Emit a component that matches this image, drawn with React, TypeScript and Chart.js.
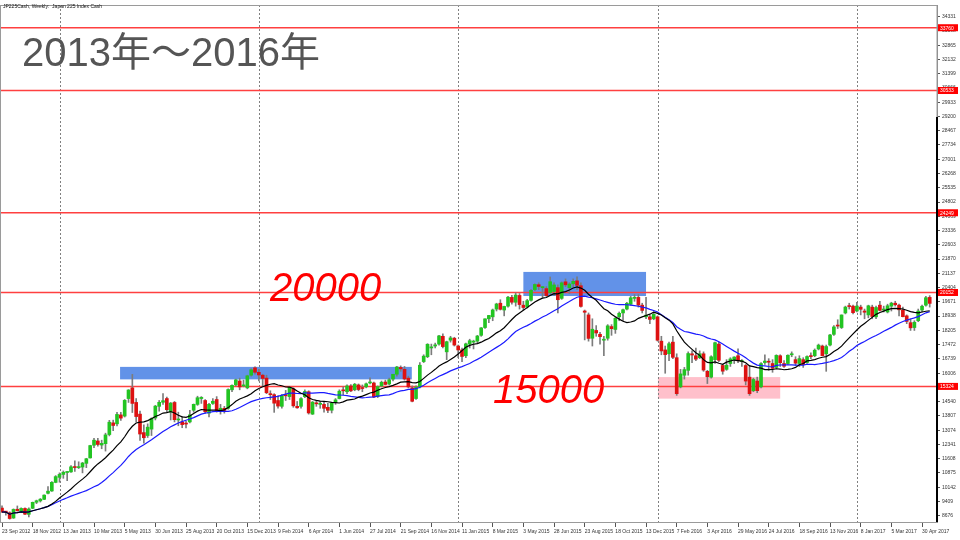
import React, { useEffect, useRef } from "react";
import { Chart, registerables } from "chart.js";
Chart.register(...registerables);

// Weekly candles [open, high, low, close], bar dated 23 Sep 2012 onward
const ohlc2012 = [
  [9070, 9180, 8850, 8870], [8870, 8900, 8700, 8863], [8830, 8880, 8500, 8534], [8560, 9030, 8540, 9002],
  [9010, 9180, 8920, 8933], [8900, 9080, 8850, 9051], [9050, 9080, 8730, 8757], [8750, 9080, 8620, 9024],
  [9060, 9380, 9040, 9366], [9370, 9480, 9300, 9446], [9440, 9560, 9380, 9527], [9520, 9750, 9500, 9737],
  [9830, 10170, 9800, 9940], [9950, 10430, 9930, 10395],
];
const ohlc2013 = [
  [10390, 10740, 10370, 10688], [10650, 10880, 10400, 10801], [10800, 10980, 10600, 10913], [10900, 10950, 10480, 10926],
  [10930, 11260, 10900, 11191], [11190, 11500, 10950, 11153], [11150, 11450, 11100, 11173], [11180, 11420, 10880, 11385],
  [11370, 11630, 11150, 11606], [11650, 12300, 11640, 12283], [12300, 12650, 12180, 12560], [12520, 12650, 12250, 12338],
  [12310, 12560, 12120, 12397], [12380, 12920, 12000, 12833], [12850, 13580, 12780, 13485], [13450, 13590, 13050, 13316],
  [13400, 13990, 13290, 13884], [13860, 13990, 13570, 13694], [13800, 14650, 13750, 14607], [14700, 15160, 14500, 15138],
  [15250, 15942, 13981, 14450], [14500, 14700, 13500, 13774], [13900, 14050, 12550, 12877], [12950, 13350, 12410, 12686],
  [12800, 13400, 12700, 13230], [13130, 13710, 12800, 13677], [13700, 14350, 13600, 14310], [14300, 14600, 14050, 14506],
  [14510, 14950, 14400, 14589], [14700, 14780, 14000, 14129], [14000, 14500, 13600, 14466], [14500, 14550, 13500, 13615],
  [13600, 14000, 13300, 13650], [13500, 13770, 13200, 13361], [13400, 13530, 13190, 13389], [13500, 14100, 13450, 13861],
  [14100, 14420, 14000, 14404], [14400, 14820, 14350, 14742], [14700, 14800, 14450, 14760], [14600, 14650, 13950, 14024],
  [13950, 14450, 13750, 14404], [14450, 14700, 14400, 14561], [14650, 14800, 14000, 14088], [14100, 14400, 13900, 14201],
  [14200, 14300, 13950, 14086], [14200, 15200, 14150, 15165], [15150, 15400, 15050, 15381], [15400, 15700, 15350, 15661],
  [15600, 15750, 15150, 15299], [15350, 15650, 15300, 15403], [15250, 15900, 15200, 15870], [15900, 16230, 15850, 16178],
  [16280, 16330, 15950, 16050],
];
const ohlc2014 = [
  [16050, 16200, 15600, 15912], [15900, 15950, 15350, 15734], [15750, 15900, 14950, 15000], [14950, 15100, 14650, 14900],
  [14900, 14950, 13990, 14462], [14600, 14850, 14200, 14313], [14300, 14900, 14200, 14865], [14900, 15120, 14600, 14841],
  [14800, 15300, 14650, 15274], [15200, 15250, 14250, 14327], [14300, 14550, 14200, 14224], [14300, 14750, 14200, 14696],
  [14800, 15150, 14750, 15063], [15050, 15100, 13900, 13960], [13900, 14550, 13880, 14516], [14450, 14600, 14300, 14429],
  [14400, 14550, 14200, 14457], [14400, 14500, 14000, 14199], [14250, 14450, 13980, 14097], [14100, 14500, 13960, 14462],
  [14500, 14700, 14400, 14632], [14700, 15150, 14680, 15077], [15100, 15300, 14900, 15097], [15050, 15400, 14950, 15349],
  [15350, 15420, 15050, 15095], [15150, 15480, 15100, 15437], [15400, 15450, 15100, 15164], [15250, 15400, 15050, 15215],
  [15300, 15500, 15250, 15457], [15500, 15760, 15450, 15523], [15500, 15550, 14750, 14778], [14800, 15350, 14750, 15318],
  [15350, 15600, 15300, 15539], [15550, 15650, 15400, 15424], [15450, 15750, 15400, 15668], [15700, 15950, 15600, 15948],
  [15950, 16350, 15850, 16321], [16300, 16380, 16100, 16229], [16200, 16350, 15650, 15708], [15750, 15850, 15250, 15300],
  [15250, 15350, 14530, 14560], [14700, 15350, 14650, 15291], [15300, 16550, 15250, 16413], [16600, 16950, 16550, 16880],
  [16850, 17520, 16800, 17490], [17300, 17500, 16950, 17357], [17400, 17550, 17300, 17459], [17500, 17950, 17450, 17920],
  [17900, 18030, 17300, 17371], [17100, 17650, 16700, 17621], [17700, 17900, 17600, 17818], [17800, 17850, 17400, 17450],
];
const ohlc2015 = [
  [17400, 17450, 16800, 17197], [17200, 17300, 16600, 16864], [16900, 17550, 16800, 17511], [17500, 17750, 17300, 17674],
  [17600, 17700, 17250, 17648], [17650, 17950, 17550, 17913], [17950, 18350, 17900, 18332], [18350, 18800, 18300, 18797],
  [18800, 18980, 18600, 18971], [18900, 19300, 18700, 19254], [19300, 19600, 19200, 19560], [19600, 19780, 19250, 19286],
  [19250, 19450, 18950, 19435], [19450, 19950, 19400, 19907], [19900, 20010, 19550, 19652], [19650, 20130, 19450, 20020],
  [20000, 20100, 19300, 19531], [19500, 19700, 19250, 19379], [19400, 19800, 19350, 19732], [19750, 20300, 19700, 20264],
  [20300, 20600, 20250, 20563], [20550, 20650, 20300, 20461], [20400, 20450, 19900, 20407], [20350, 20450, 19950, 19990],
  [20150, 20950, 20100, 20706], [20200, 20650, 20000, 20539], [20400, 20550, 19100, 19780], [19850, 20700, 19800, 20650],
  [20700, 20850, 20450, 20544], [20400, 20650, 20100, 20585], [20600, 20850, 20450, 20724], [20750, 20950, 20300, 20519],
  [20500, 20650, 19400, 19436], [19200, 19250, 17714, 19136], [19000, 19100, 17650, 17792], [17800, 18800, 17400, 18264],
  [18200, 18450, 17900, 18070], [18000, 18100, 17500, 17880], [17700, 17900, 16900, 17725], [17800, 18500, 17700, 18438],
  [18400, 18500, 17950, 18291], [18250, 18900, 18050, 18825], [18900, 19150, 18700, 19083], [19100, 19300, 18700, 19265],
  [19300, 19650, 19250, 19596], [19550, 19950, 19500, 19879], [19850, 20050, 19700, 19883], [19900, 20050, 19400, 19504],
  [19500, 19600, 19100, 19230], [18900, 19900, 18800, 18986], [18900, 19000, 18550, 18769], [18800, 19150, 18750, 19033],
];
const ohlc2016 = [
  [18900, 18950, 17650, 17697], [17650, 17900, 16950, 17147], [17200, 17400, 16000, 16958], [17000, 17600, 16650, 17518],
  [17600, 17900, 16750, 16819], [16800, 17000, 14865, 14952], [15300, 16200, 15250, 15967], [15900, 16300, 15700, 16188],
  [16150, 17100, 15900, 17014], [17000, 17150, 16550, 16938], [16900, 17300, 16650, 16724], [16800, 17150, 16750, 17002],
  [17000, 17100, 16100, 16164], [16100, 16150, 15470, 15821], [15800, 16900, 15750, 16848], [16700, 17600, 16500, 17572],
  [17500, 17600, 16600, 16666], [16400, 16450, 15950, 16106], [16200, 16700, 16150, 16412], [16500, 16800, 16350, 16736],
  [16700, 16850, 16500, 16834], [16900, 17250, 16550, 16642], [16600, 16700, 16350, 16601], [16400, 16450, 15400, 15599],
  [15800, 16400, 14864, 14952], [15100, 15750, 15050, 15682], [15600, 15800, 15000, 15106], [15300, 16550, 15250, 16497],
  [16550, 16950, 16450, 16627], [16600, 16750, 16150, 16569], [16500, 16700, 16050, 16254], [16300, 16950, 16250, 16919],
  [16900, 16950, 16350, 16545], [16500, 16650, 16300, 16360], [16500, 16950, 16450, 16925], [16950, 17100, 16850, 16965],
  [16700, 16850, 16400, 16519], [16500, 16900, 16350, 16754], [16700, 16800, 16300, 16449], [16550, 16900, 16500, 16860],
  [16900, 17050, 16750, 16856], [16900, 17250, 16850, 17184], [17250, 17500, 17200, 17446], [17400, 17450, 16900, 16905],
  [17000, 17450, 16100, 17374], [17450, 18000, 17400, 17967], [18000, 18450, 17950, 18381], [18450, 18750, 18300, 18426],
  [18350, 19000, 18300, 18996], [19100, 19450, 19050, 19401], [19450, 19600, 19300, 19427], [19450, 19500, 19050, 19114],
];
const ohlc2017 = [
  [19200, 19650, 19150, 19454], [19400, 19500, 19000, 19287], [19200, 19300, 18800, 19137], [19000, 19500, 18850, 19467],
  [19400, 19500, 18800, 18918], [18900, 19450, 18800, 19378], [19500, 19700, 19200, 19234], [19250, 19450, 19150, 19283],
  [19150, 19550, 19100, 19469], [19450, 19650, 19200, 19604], [19600, 19700, 19450, 19521], [19500, 19550, 18950, 19262],
  [19250, 19400, 18900, 18909], [18950, 19000, 18550, 18665], [18600, 18800, 18200, 18335], [18350, 18700, 18200, 18620],
  [18700, 19300, 18650, 19197], [19250, 19500, 19150, 19445], [19500, 19950, 19450, 19883], [19900, 19990, 19400, 19591],
];

const xTickLabels = [
  "23 Sep 2012", "18 Nov 2012", "13 Jan 2013", "10 Mar 2013", "5 May 2013", "30 Jun 2013", "25 Aug 2013",
  "20 Oct 2013", "15 Dec 2013", "9 Feb 2014", "6 Apr 2014", "1 Jun 2014", "27 Jul 2014", "21 Sep 2014",
  "16 Nov 2014", "11 Jan 2015", "8 Mar 2015", "3 May 2015", "28 Jun 2015", "23 Aug 2015", "18 Oct 2015",
  "13 Dec 2015", "7 Feb 2016", "3 Apr 2016", "29 May 2016", "24 Jul 2016", "18 Sep 2016", "13 Nov 2016",
  "8 Jan 2017", "5 Mar 2017", "30 Apr 2017",
];
const yTickLabels = [
  8676, 9409, 10142, 10875, 11608, 12341, 13074, 13807, 14540, 15273, 16006, 16739, 17472, 18205, 18938,
  19671, 20404, 21137, 21870, 22603, 23336, 24069, 24802, 25535, 26268, 27001, 27734, 28467, 29200, 29933,
  30666, 31399, 32132, 32865, 33598, 34331,
];
const levelLines = [33760, 30533, 24249, 20152, 15324];
const yearStartIdx = [15, 67, 119, 171, 223];

const candles = [...ohlc2012, ...ohlc2013, ...ohlc2014, ...ohlc2015, ...ohlc2016, ...ohlc2017];
const closes = candles.map((c) => c[3]);
function sma(n: number) {
  return closes.map((_, i) => {
    const s = Math.max(0, i - n + 1);
    let t = 0;
    for (let k = s; k <= i; k++) t += closes[k];
    return t / (i - s + 1);
  });
}
const ma13 = sma(13);
const ma26 = sma(26);

const boxes = [
  { x0: 30.8, x1: 106.9, lo: 15686, hi: 16328, color: "rgb(98,146,232)" },
  { x0: 136.0, x1: 168.0, lo: 19970, hi: 21209, color: "rgb(98,146,232)" },
  { x0: 171.1, x1: 203.0, lo: 14696, hi: 15803, color: "rgb(255,192,203)" },
];

const overlay = {
  id: "overlay",
  beforeDatasetsDraw(chart: any) {
    const { ctx, chartArea: a, scales } = chart;
    const x = scales.x, y = scales.y;
    ctx.save();
    for (const b of boxes) {
      const px0 = x.getPixelForValue(b.x0), px1 = x.getPixelForValue(b.x1);
      const py0 = y.getPixelForValue(b.hi), py1 = y.getPixelForValue(b.lo);
      ctx.fillStyle = b.color;
      ctx.fillRect(px0, py0, px1 - px0, py1 - py0);
    }
    ctx.strokeStyle = "#808080";
    ctx.lineWidth = 1;
    ctx.setLineDash([2, 2]);
    for (const i of yearStartIdx) {
      const px = Math.round(x.getPixelForValue(i)) + 0.5;
      ctx.beginPath();
      ctx.moveTo(px, a.top);
      ctx.lineTo(px, a.bottom);
      ctx.stroke();
    }
    ctx.setLineDash([]);
    ctx.strokeStyle = "#ff4040";
    ctx.lineWidth = 1.5;
    for (const v of levelLines) {
      const py = y.getPixelForValue(v);
      ctx.beginPath();
      ctx.moveTo(a.left, py);
      ctx.lineTo(a.right, py);
      ctx.stroke();
    }
    ctx.restore();
  },
  afterDraw(chart: any) {
    const { ctx, chartArea: a, scales } = chart;
    const y = scales.y;
    ctx.save();
    // frame
    ctx.strokeStyle = "#9a9a9a";
    ctx.lineWidth = 1;
    ctx.strokeRect(a.left + 0.5, a.top + 0.5, a.right - a.left - 0.5, a.bottom - a.top);
    ctx.strokeStyle = "#000";
    ctx.lineWidth = 2;
    ctx.beginPath();
    ctx.moveTo(a.right, 117);
    ctx.lineTo(a.right, a.bottom);
    ctx.stroke();
    // level labels
    ctx.font = '5px "Liberation Sans", sans-serif';
    ctx.textAlign = "left";
    ctx.textBaseline = "middle";
    for (const v of levelLines) {
      const py = y.getPixelForValue(v);
      ctx.fillStyle = "#ff0000";
      ctx.fillRect(a.right + 1, py - 3.5, 20, 7);
      ctx.fillStyle = "#ffffff";
      ctx.fillText(String(v), a.right + 3, py + 0.5);
    }
    // header
    ctx.fillStyle = "#111";
    ctx.textBaseline = "alphabetic";
    ctx.font = '5px "Liberation Sans", sans-serif';
    ctx.fillText("JP225Cash, Weekly:  Japan 225 Index Cash", 3, 8);
    // title
    ctx.fillStyle = "#555555";
    ctx.font = '40px "Liberation Sans", "Noto Sans CJK JP", sans-serif';
    ctx.fillText("2013年～2016年", 22, 66);
    // big numbers
    ctx.fillStyle = "#ff0000";
    ctx.font = 'italic 40px "Liberation Sans", sans-serif';
    ctx.fillText("20000", 270, 301);
    ctx.fillText("15000", 493, 403);
    ctx.restore();
  },
};

export default function App() {
  const ref = useRef<HTMLCanvasElement | null>(null);
  useEffect(() => {
    document.body.style.margin = "0";
    const canvas = ref.current!;
    const chart = new Chart(canvas, {
      type: "bar",
      data: {
        datasets: [
          {
            type: "line",
            label: "MA13",
            data: ma13.map((v, i) => ({ x: i, y: v })),
            borderColor: "#000000",
            borderWidth: 1.2,
            pointRadius: 0,
            order: 1,
          } as any,
          {
            type: "line",
            label: "MA26",
            data: ma26.map((v, i) => ({ x: i, y: v })),
            borderColor: "#1a1aff",
            borderWidth: 1.2,
            pointRadius: 0,
            order: 2,
          } as any,
          {
            type: "bar",
            label: "body",
            data: candles.map((c, i) => ({ x: i, y: [c[0], c[3]] })),
            backgroundColor: candles.map((c) => (c[3] >= c[0] ? "#22c422" : "#dd1111")),
            barThickness: 3,
            minBarLength: 1,
            grouped: false,
            order: 3,
          } as any,
          {
            type: "bar",
            label: "wick",
            data: candles.map((c, i) => ({ x: i, y: [c[2], c[1]] })),
            backgroundColor: "#7c7c7c",
            barThickness: 1,
            grouped: false,
            order: 4,
          } as any,
        ],
      },
      options: {
        animation: false,
        responsive: false,
        devicePixelRatio: 1,
        events: [],
        layout: { padding: { top: 1, left: 0, right: 0, bottom: 0 } },
        plugins: { legend: { display: false }, tooltip: { enabled: false } },
        scales: {
          x: {
            type: "linear",
            position: "bottom",
            min: -0.52,
            max: 243.9,
            offset: false,
            grid: { drawOnChartArea: false, drawTicks: true, tickLength: 5, color: "#555", offset: false },
            border: { display: true, color: "#888" },
            ticks: {
              font: { family: "Liberation Sans", size: 5 },
              color: "#333",
              align: "start",
              maxRotation: 0,
              minRotation: 0,
              autoSkip: false,
              padding: 2,
              callback: (_v: any, idx: number) => xTickLabels[idx],
            },
            afterBuildTicks: (scale: any) => {
              scale.ticks = xTickLabels.map((_, k) => ({ value: k * 8 }));
            },
            afterFit: (scale: any) => {
              scale.height = 18;
            },
          },
          y: {
            type: "linear",
            position: "right",
            min: 8355,
            max: 34928,
            grid: { drawOnChartArea: false, drawTicks: true, tickLength: 3, color: "#555" },
            border: { display: true, color: "#888" },
            ticks: {
              font: { family: "Liberation Sans", size: 5 },
              color: "#333",
              padding: 2,
              autoSkip: false,
              callback: (v: any) => String(v),
            },
            afterBuildTicks: (scale: any) => {
              scale.ticks = yTickLabels.map((v) => ({ value: v }));
            },
            afterFit: (scale: any) => {
              scale.width = 23;
            },
          },
        },
      } as any,
      plugins: [overlay],
    });
    return () => chart.destroy();
  }, []);
  return (
    <div style={{ position: "absolute", left: 0, top: 0, width: 960, height: 540, background: "#fff" }}>
      <canvas ref={ref} width={960} height={540} style={{ display: "block" }} />
    </div>
  );
}
